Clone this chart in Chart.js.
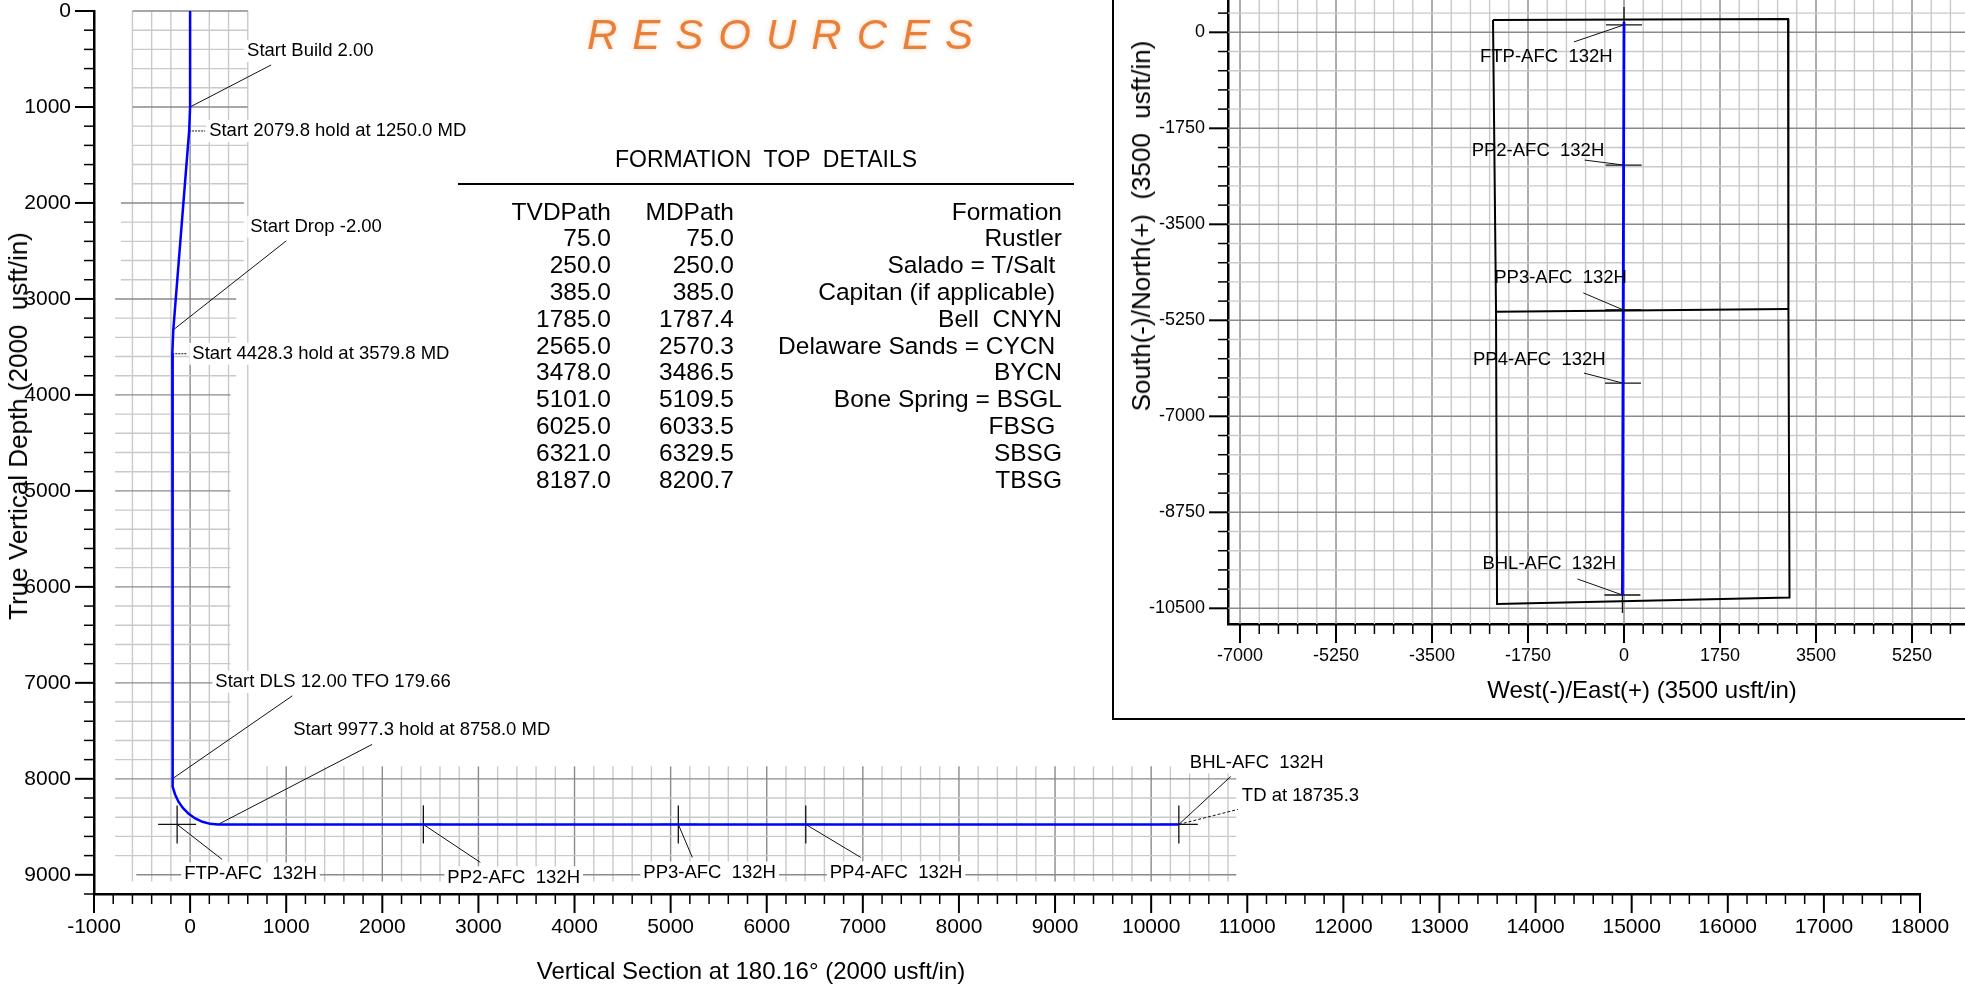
<!DOCTYPE html>
<html>
<head>
<meta charset="utf-8">
<title>AFC 132H wellplan</title>
<script src="https://cdn.jsdelivr.net/npm/chart.js@4.4.1/dist/chart.umd.min.js"></script>
<style>
  html, body { margin: 0; padding: 0; background: #fff; }
  body { width: 1965px; height: 984px; position: relative; overflow: hidden;
         font-family: "Liberation Sans", Arial, sans-serif; color: #000; }
  #sectionChart { position: absolute; left: 0; top: 0; }
  #planBox { position: absolute; left: 1112px; top: -3px; width: 860px; height: 723px;
             border: 2px solid #000; box-sizing: border-box; background: #fff; z-index: 2; }
  #planChart { position: absolute; left: 0; top: 1px; }
  .txt { position: absolute; white-space: pre; z-index: 5; line-height: 1; }
  .rot { transform: translate(-50%, -50%) rotate(-90deg); font-size: 26px; }
  .axisTitle { transform: translate(-50%, -50%); font-size: 24px; }
  #resources { left: 587px; top: 14px; font-size: 42px; font-style: italic; letter-spacing: 15px;
               color: #e9803a; text-shadow: 0 0 5px rgba(233, 128, 58, 0.35); }
  #formTitle { left: 766px; top: 159px; transform: translate(-50%, -50%); font-size: 23px; }
  #formRule { position: absolute; left: 458px; top: 183px; width: 616px; height: 2px; background: #000; z-index: 5; }
  .col { top: 198.6px; font-size: 24.5px; line-height: 26.8px; text-align: right; }
</style>
</head>
<body>
<canvas id="sectionChart" width="1965" height="984"></canvas>
<div id="planBox"><canvas id="planChart" width="851" height="717"></canvas></div>

<div class="txt" id="resources">RESOURCES</div>
<div class="txt" id="formTitle">FORMATION  TOP  DETAILS</div>
<div id="formRule"></div>
<div class="txt col" id="colTVD" style="right:1354px"></div>
<div class="txt col" id="colMD" style="right:1231px"></div>
<div class="txt col" id="colName" style="right:903px"></div>

<div class="txt rot" style="left:18px; top:426px">True Vertical Depth (2000  usft/in)</div>
<div class="txt axisTitle" style="left:751px; top:971px">Vertical Section at 180.16° (2000 usft/in)</div>
<div class="txt rot" style="left:1141px; top:226px">South(-)/North(+)  (3500  usft/in)</div>
<div class="txt axisTitle" style="left:1642px; top:690px">West(-)/East(+) (3500 usft/in)</div>

<script>
// ---- vertical section: wellpath (VS, TVD) ----
const sectionVS  = [0, 0, -10, -175, -185, -185, -178, -156, -121, -73, -15, 53, 129, 209, 292, 10288];
const sectionTVD = [0, 1000, 1250, 3322, 3571, 8000, 8083, 8163, 8238, 8306, 8365, 8413, 8448, 8469, 8475, 8475];

// ---- plan view: wellpath (E/W, N/S) ----
const planEW = [0, 0, -1, -29];
const planNS = [0, 190, 0, -10257];

// lease / section lines
const leaseEW = [-2388, 2990, 2997, 3017, -2315, -2333, -2388];
const leaseNS = [224, 242, -5044, -10305, -10422, -5093, 224];
const leaseMidEW = [-2333, 2997];
const leaseMidNS = [-5093, -5044];

// targets
const targetNames = ['FTP-AFC  132H', 'PP2-AFC  132H', 'PP3-AFC  132H', 'PP4-AFC  132H', 'BHL-AFC  132H'];
const targetVS  = [-135, 2427, 5080, 6406, 10288];
const targetTVD = [8475, 8475, 8475, 8475, 8475];
const targetEW  = [0, -7, -14, -18, -29];
const targetNS  = [135, -2420, -5060, -6395, -10257];

// section annotations
const noteText = ['Start Build 2.00', 'Start 2079.8 hold at 1250.0 MD', 'Start Drop -2.00',
                  'Start 4428.3 hold at 3579.8 MD', 'Start DLS 12.00 TFO 179.66',
                  'Start 9977.3 hold at 8758.0 MD', 'TD at 18735.3'];
const noteVS  = [0, -10, -175, -185, -185, 292, 10288];
const noteTVD = [1000, 1250, 3322, 3571, 8000, 8475, 8475];

// formation tops
const formTVD  = [75.0, 250.0, 385.0, 1785.0, 2565.0, 3478.0, 5101.0, 6025.0, 6321.0, 8187.0];
const formMD   = [75.0, 250.0, 385.0, 1787.4, 2570.3, 3486.5, 5109.5, 6033.5, 6329.5, 8200.7];
const formName = ['Rustler', 'Salado = T/Salt ', 'Capitan (if applicable) ', 'Bell  CNYN',
                  'Delaware Sands = CYCN ', 'BYCN', 'Bone Spring = BSGL', 'FBSG ', 'SBSG', 'TBSG'];

// tick labels
const sectionXTicks = [-1000, 0, 1000, 2000, 3000, 4000, 5000, 6000, 7000, 8000, 9000, 10000,
                       11000, 12000, 13000, 14000, 15000, 16000, 17000, 18000];
const sectionYTicks = [0, 1000, 2000, 3000, 4000, 5000, 6000, 7000, 8000, 9000];
const planXTicks = [-7000, -5250, -3500, -1750, 0, 1750, 3500, 5250];
const planYTicks = [0, -1750, -3500, -5250, -7000, -8750, -10500];

// label placement (pixel offsets from the anchor point: [leaderX, leaderY, textX, textY])
const noteLayout = [[81, -42, 57, -56], [16, 0, 20, 0], [113, -89, 77, -103], [15, 0, 20, 0],
                    [120, -83, 43, -97], [154, -80, 75, -95], [59, -15, 63, -29]];
const sectionTargetLayout = [[45, 35, 7, 49], [57, 38, 24, 53], [14, 33, -35, 48], [55, 33, 24, 48], [52, -48, 11, -62]];
const planTargetLayout = [[-50, 17, -144, 32], [-39, -5, -152, -14], [-40, -17, -129, -32], [-39, -10, -150, -23], [-45, -16, -140, -31]];

const NOTE_FONT = '18.5px "Liberation Sans", Arial, sans-serif';

// table
document.getElementById('colTVD').textContent = ['TVDPath'].concat(formTVD.map(v => v.toFixed(1))).join('\n');
document.getElementById('colMD').textContent = ['MDPath'].concat(formMD.map(v => v.toFixed(1))).join('\n');
document.getElementById('colName').textContent = ['Formation'].concat(formName).join('\n');

Chart.defaults.font.family = '"Liberation Sans", Arial, sans-serif';
Chart.defaults.font.size = 18;
Chart.defaults.color = '#000';

function gridLine(ctx, x1, y1, x2, y2, major) {
    ctx.strokeStyle = major ? '#8a8a8a' : '#c9c9c9';
    ctx.lineWidth = 1.4;
    ctx.beginPath();
    ctx.moveTo(x1, y1);
    ctx.lineTo(x2, y2);
    ctx.stroke();
}

function line(ctx, x1, y1, x2, y2, width, dash) {
    ctx.strokeStyle = '#111';
    ctx.lineWidth = width;
    ctx.setLineDash(dash || []);
    ctx.beginPath();
    ctx.moveTo(x1, y1);
    ctx.lineTo(x2, y2);
    ctx.stroke();
    ctx.setLineDash([]);
}

function cross(ctx, px, py, size) {
    line(ctx, px - size, py, px + size, py, 1.3);
    line(ctx, px, py - size, px, py + size, 1.3);
}

function drawTicks(ctx, scale, minorStep, majorStep, horizontal) {
    const start = Math.ceil(scale.min / minorStep) * minorStep;
    ctx.strokeStyle = '#000';
    for (let v = start; v <= scale.max + 0.001; v += minorStep) {
        const major = Math.round(v) % majorStep === 0;
        const len = major ? 19 : 10;
        const p = scale.getPixelForValue(v);
        ctx.lineWidth = major ? 2 : 1.5;
        ctx.beginPath();
        if (horizontal) {
            ctx.moveTo(p, scale.top);
            ctx.lineTo(p, scale.top + len);
        } else {
            ctx.moveTo(scale.right, p);
            ctx.lineTo(scale.right - len, p);
        }
        ctx.stroke();
    }
}

function noteBox(ctx, text, x, y) {
    ctx.font = NOTE_FONT;
    const w = ctx.measureText(text).width;
    ctx.fillStyle = '#fff';
    ctx.fillRect(x - 3, y - 11, w + 6, 22);
}

function noteLabel(ctx, text, x, y) {
    ctx.font = NOTE_FONT;
    ctx.textAlign = 'left';
    ctx.textBaseline = 'middle';
    ctx.fillStyle = '#000';
    ctx.fillText(text, x, y);
}

// grid of the vertical section: a strip along the vertical hole and one along the lateral
function drawSectionGrid(ctx, x, y) {
    const seg = (v1, t1, v2, t2, major) =>
        gridLine(ctx, x.getPixelForValue(v1), y.getPixelForValue(t1), x.getPixelForValue(v2), y.getPixelForValue(t2), major);
    for (let v = -600; v <= 600; v += 200) seg(v, 0, v, 9070, v % 1000 === 0);
    for (let t = 0; t <= 7800; t += 200) {
        const from = t < 2000 ? -600 : t < 3000 ? -720 : -780;
        const to = t < 2000 ? 600 : t < 3000 ? 560 : t < 4000 ? 480 : 420;
        seg(from, t, to, t, t % 1000 === 0);
    }
    for (let v = 800; v <= 10800; v += 200) seg(v, 7870, v, 9070, v % 1000 === 0);
    for (let t = 8000; t <= 9000; t += 200) seg(t === 9000 ? -560 : -780, t, 10885, t, t % 1000 === 0);
}

const sectionDecor = {
    id: 'sectionDecor',
    beforeDatasetsDraw(chart) {
        const { ctx, scales: { x, y } } = chart;
        ctx.save();
        drawSectionGrid(ctx, x, y);

        noteText.forEach((t, i) => {
            const px = x.getPixelForValue(noteVS[i]), py = y.getPixelForValue(noteTVD[i]);
            noteBox(ctx, t, px + noteLayout[i][2], py + noteLayout[i][3]);
        });
        targetNames.forEach((t, i) => {
            const px = x.getPixelForValue(targetVS[i]), py = y.getPixelForValue(targetTVD[i]);
            noteBox(ctx, t, px + sectionTargetLayout[i][2], py + sectionTargetLayout[i][3]);
        });

        noteText.forEach((t, i) => {
            const px = x.getPixelForValue(noteVS[i]), py = y.getPixelForValue(noteTVD[i]);
            const [lx, ly] = noteLayout[i];
            const dash = i === 1 || i === 3 ? [2, 1] : i === 6 ? [3, 2] : null;
            line(ctx, px, py, px + lx, py + ly, 1, dash);
        });
        targetNames.forEach((t, i) => {
            const px = x.getPixelForValue(targetVS[i]), py = y.getPixelForValue(targetTVD[i]);
            const [lx, ly] = sectionTargetLayout[i];
            line(ctx, px, py, px + lx, py + ly, 1);
            cross(ctx, px, py, 19);
        });
        ctx.restore();
    },
    afterDatasetsDraw(chart) {
        const { ctx, scales: { x, y } } = chart;
        ctx.save();
        noteText.forEach((t, i) => {
            const px = x.getPixelForValue(noteVS[i]), py = y.getPixelForValue(noteTVD[i]);
            noteLabel(ctx, t, px + noteLayout[i][2], py + noteLayout[i][3]);
        });
        targetNames.forEach((t, i) => {
            const px = x.getPixelForValue(targetVS[i]), py = y.getPixelForValue(targetTVD[i]);
            noteLabel(ctx, t, px + sectionTargetLayout[i][2], py + sectionTargetLayout[i][3]);
        });
        drawTicks(ctx, x, 200, 1000, true);
        drawTicks(ctx, y, 200, 1000, false);
        ctx.restore();
    }
};

const planDecor = {
    id: 'planDecor',
    beforeDatasetsDraw(chart) {
        const { ctx, chartArea: a, scales: { x, y } } = chart;
        ctx.save();
        ctx.beginPath();
        ctx.rect(a.left, a.top, a.right - a.left, a.bottom - a.top);
        ctx.clip();
        for (let v = Math.ceil(x.min / 350) * 350; v <= x.max; v += 350) {
            const p = x.getPixelForValue(v);
            gridLine(ctx, p, a.top, p, a.bottom, v % 1750 === 0);
        }
        for (let v = Math.ceil(y.min / 350) * 350; v <= y.max; v += 350) {
            const p = y.getPixelForValue(v);
            gridLine(ctx, a.left, p, a.right, p, v % 1750 === 0);
        }
        targetNames.forEach((t, i) => {
            const px = x.getPixelForValue(targetEW[i]), py = y.getPixelForValue(targetNS[i]);
            const [lx, ly] = planTargetLayout[i];
            line(ctx, px, py, px + lx, py + ly, 1);
            cross(ctx, px, py, 18);
        });
        ctx.restore();
    },
    afterDatasetsDraw(chart) {
        const { ctx, scales: { x, y } } = chart;
        ctx.save();
        targetNames.forEach((t, i) => {
            const px = x.getPixelForValue(targetEW[i]), py = y.getPixelForValue(targetNS[i]);
            noteLabel(ctx, t, px + planTargetLayout[i][2], py + planTargetLayout[i][3]);
        });
        drawTicks(ctx, x, 350, 1750, true);
        drawTicks(ctx, y, 350, 1750, false);
        ctx.restore();
    }
};

function axis(min, max, ticks, size, horizontal, fontSize, reverse) {
    return {
        type: 'linear', min: min, max: max, reverse: !!reverse,
        grid: { display: false, drawTicks: true, tickLength: 19 },
        border: { display: true, color: '#000', width: 2.5 },
        ticks: { padding: horizontal ? 2 : 4, maxRotation: 0, autoSkip: false,
                 font: { size: fontSize }, callback: v => String(v) },
        afterBuildTicks: s => { s.ticks = ticks.map(v => ({ value: v })); },
        afterFit: s => {
            if (horizontal) { s.height = size; s.paddingLeft = 0; s.paddingRight = 0; }
            else { s.width = size; s.paddingTop = 0; s.paddingBottom = 0; }
        }
    };
}

const pts = (xs, ys) => xs.map((v, i) => ({ x: v, y: ys[i] }));

new Chart(document.getElementById('sectionChart'), {
    type: 'scatter',
    data: {
        datasets: [{
            data: pts(sectionVS, sectionTVD),
            showLine: true, borderColor: '#0000ff', borderWidth: 2.5, pointRadius: 0, tension: 0
        }]
    },
    options: {
        responsive: false, animation: false, devicePixelRatio: 1,
        layout: { padding: { top: 11, right: 45, left: 0, bottom: 0 } },
        plugins: { legend: { display: false }, tooltip: { enabled: false } },
        scales: {
            x: axis(-1000, 18000, sectionXTicks, 90, true, 21),
            y: axis(0, 9200, sectionYTicks, 94, false, 21, true)
        }
    },
    plugins: [sectionDecor]
});

new Chart(document.getElementById('planChart'), {
    type: 'scatter',
    data: {
        datasets: [
            { data: pts(leaseEW, leaseNS), showLine: true, borderColor: '#000', borderWidth: 2, pointRadius: 0 },
            { data: pts(leaseMidEW, leaseMidNS), showLine: true, borderColor: '#000', borderWidth: 2, pointRadius: 0 },
            { data: pts(planEW, planNS), showLine: true, borderColor: '#0000ff', borderWidth: 2.8, pointRadius: 0 }
        ]
    },
    options: {
        responsive: false, animation: false, devicePixelRatio: 1,
        layout: { padding: 0 },
        plugins: { legend: { display: false }, tooltip: { enabled: false } },
        scales: {
            x: axis(-7219, 6216, planXTicks, 93, true, 18),
            y: axis(-10786, 589, planYTicks, 114, false, 18)
        }
    },
    plugins: [planDecor]
});
</script>
</body>
</html>
